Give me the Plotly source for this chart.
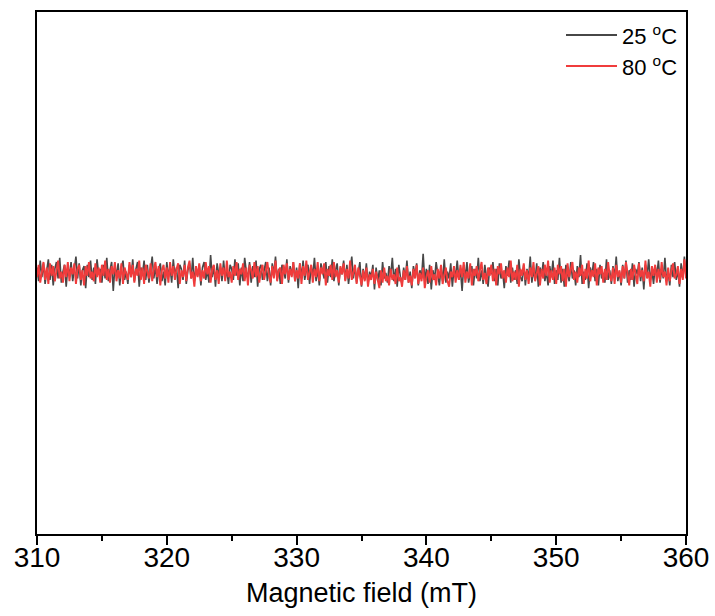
import numpy as np
import plotly.graph_objects as go

# Magnetic field axis (mT), 401 samples from 310 to 360
field_mT = np.linspace(310, 360, 401)

# EPR signal (arb. units), 25 °C
signal_25C = [
    4, -6, 9, -3, 7, -8, 2, 10, -5, 6, -9, 3, 8, -4, 11, -7, 1, 6, -10, 5,
    -2, 8, -6, 3, 12, -4, 7, -9, 2, 5, -11, 6, -3, 9, -5, 4, -8, 10, -1, 3,
    -7, 6, -4, 11, -6, 2, 8, -13, 5, -2, 7, -9, 4, 9, -5, 1, -8, 6, -3, 10,
    -6, 3, 8, -10, 4, -1, 9, -5, 6, -7, 2, 12, -4, 5, -8, 3, 7, -6, 1, -9,
    8, -3, 5, -7, 10, -2, 4, -11, 6, 3, -5, 9, -8, 2, 7, -4, 11, -6, 3, -2,
    6, -9, 4, 8, -5, 2, -7, 13, -3, 5, -10, 7, -1, 4, -6, 9, -4, 2, -8, 6,
    3, -5, 10, -2, 7, -9, 4, -6, 11, 1, -4, 8, -7, 5, -3, 9, -10, 3, 6, -5,
    2, 8, -6, 4, -9, 7, -1, 12, -5, 3, -8, 6, 1, -4, 10, -7, 5, -2, 8, -6,
    4, -11, 7, -3, 9, -5, 2, 6, -8, 5, -2, 11, -6, 3, -9, 7, 1, -4, 8, -7,
    5, -3, 10, -6, 2, 7, -9, 4, -1, 9, -5, 6, -8, 3, 12, -4, 5, -7, 2, 8,
    -10, 3, -5, 7, -8, 1, -3, 6, -12, 4, -6, 2, -9, 8, -4, 0, -7, 5, -2, 11,
    -6, 3, -10, 6, -3, -8, 4, -5, 9, -7, 1, -11, 5, -2, 7, -9, 2, -4, 14, -6,
    3, -8, 6, -12, 2, -5, 8, -3, -9, 4, -6, 10, -7, 1, -4, 7, -10, 3, -2, 9,
    -5, 2, -13, 6, -3, 8, -7, 0, 5, -9, 3, -4, 11, -6, 2, -8, 6, -3, -10, 4,
    -1, 8, -6, 3, -9, 7, -4, 1, -11, 5, -2, 9, -7, 4, -5, 2, -8, 10, -3, -6,
    6, -9, 3, -4, 12, -7, 2, -5, 7, -10, 4, -2, 8, -6, 1, -9, 5, -3, 9, -8,
    2, -5, 11, -7, 3, -10, 6, -1, -6, 8, -4, 2, -9, 5, -3, 13, -8, 1, -5, 7,
    -11, 4, -2, 8, -6, 3, -9, 6, -4, 0, -7, 10, -5, 2, -8, 5, -3, 12, -6, 1,
    -9, 6, -4, 9, -7, 2, -5, 7, -10, 3, -1, 8, -6, 4, -12, 6, -3, 10, -5, 2,
    -8, 5, -2, 9, -7, 3, -4, 11, -6, 1, -9, 6, -3, 8, -5, 2, -10, 7, -4, 12,
    -3,
]

# EPR signal (arb. units), 80 °C
signal_80C = [
    -3, 6, -7, 2, 8, -5, 4, -8, 7, -2, 5, -6, 3, 9, -4, 1, -7, 6, -3, 8,
    -6, 4, -1, 7, -8, 3, 6, -5, 2, -9, 5, -2, 8, -4, 1, -6, 7, -3, 4, -7,
    6, -2, 9, -5, 3, -7, 5, -1, 8, -6, 2, -4, 7, -8, 4, 0, -5, 8, -3, 6,
    -7, 3, -2, 9, -5, 4, -8, 6, 1, -4, 7, -6, 3, 8, -3, 5, -9, 2, 6, -4,
    4, -7, 8, -2, 5, -5, 3, 7, -8, 2, -3, 6, -6, 4, 9, -4, 1, -10, 5, -3,
    7, -6, 2, -4, 8, -1, 5, -7, 3, 6, -5, 2, -8, 7, -2, 4, -6, 9, -3, 1,
    -7, 5, -2, 8, -5, 3, -1, 7, -6, 4, -9, 6, 2, -4, 8, -3, 5, -7, 1, 6,
    -5, 3, 8, -2, -7, 5, -4, 9, -6, 2, 4, -8, 6, -1, 7, -5, 3, -3, 8, -6,
    2, -4, 7, -8, 5, -2, 9, -5, 1, 6, -7, 3, -3, 8, -6, 4, -1, 7, -9, 3,
    -2, 6, -5, 8, -3, 2, -7, 5, -1, 7, -6, 3, -4, 9, -5, 1, 6, -8, 4, -2,
    -9, 2, -6, 4, -10, -1, -5, 3, -8, 1, -4, -11, 2, -7, 4, -6, -2, -9, 3, -5,
    -1, -8, 4, -6, -3, -10, 2, -5, 5, -7, -2, -9, 3, -4, 6, -8, 0, -6, 4, -11,
    -3, 2, -7, 5, -5, -1, -9, 3, -4, 6, -8, -2, 4, -6, -10, 1, -3, 5, -7, 2,
    -5, 6, -3, 8, -7, 1, -4, 7, -9, 3, -2, 5, -6, 2, 8, -5, 0, -8, 4, -2,
    6, -6, 3, -9, 5, -1, 7, -4, 2, -7, 4, -3, 9, -6, 1, -5, 6, -10, 3, -2,
    7, -5, 2, -8, 4, -3, 8, -6, 1, 5, -9, 3, -4, 6, -2, 9, -7, 2, -5, 4,
    -8, 6, -1, 5, -6, 3, -10, 7, -3, 2, 8, -5, 1, -7, 4, -2, 6, -8, 3, -4,
    9, -6, 2, -3, 7, -9, 4, -1, 5, -7, 3, -5, 8, -2, -6, 4, -8, 6, -3, 2,
    -7, 5, -4, 8, -2, -9, 3, -5, 6, -1, -8, 7, -3, 2, -6, 9, -4, 1, -10, 5,
    -2, 6, -7, 3, -5, 8, -3, 1, -9, 4, -6, 2, 7, -4, -1, 5, -8, 3, -5, 10,
    -4,
]

series_names = ["25 <sup>o</sup>C", "80 <sup>o</sup>C"]
series_colors = ["#474747", "#F03C3C"]
series_widths = [1.6, 1.9]
x_tick_values = [310, 320, 330, 340, 350, 360]

fig = go.Figure()
for yvals, name, color, w in zip([signal_25C, signal_80C], series_names,
                                 series_colors, series_widths):
    fig.add_trace(go.Scatter(x=field_mT, y=yvals, mode="lines", name=name,
                             showlegend=False,
                             line=dict(color=color, width=w)))

font_family = "Liberation Sans, Arial, sans-serif"

# legend drawn as line samples + text in paper coordinates
legend_rows_px = [35, 66]
plot_l, plot_r, plot_t, plot_b = 37, 686, 12, 534
def px_x(px):
    return (px - plot_l) / (plot_r - plot_l)
def px_y(py):
    return (plot_b - py) / (plot_b - plot_t)

for row_y, name, color in zip(legend_rows_px, series_names, series_colors):
    fig.add_shape(type="line", xref="paper", yref="paper",
                  x0=px_x(566), x1=px_x(617), y0=px_y(row_y), y1=px_y(row_y),
                  line=dict(color=color, width=2))
    fig.add_annotation(xref="paper", yref="paper", x=px_x(620), y=px_y(row_y),
                       xanchor="left", yanchor="middle", showarrow=False,
                       text=name, font=dict(size=22, family=font_family, color="black"))

fig.update_layout(
    width=715, height=616,
    margin=dict(l=plot_l, r=715 - plot_r, t=plot_t, b=616 - plot_b),
    plot_bgcolor="white", paper_bgcolor="white",
    font=dict(family=font_family, color="black", size=28),
    showlegend=False,
    xaxis=dict(range=[310, 360], tickvals=x_tick_values, automargin=False,
               ticks="outside", ticklen=9, tickwidth=2, tickcolor="black",
               showline=True, linewidth=2, linecolor="black", mirror=True,
               showgrid=False, zeroline=False, ticklabelstandoff=-12,
               tickfont=dict(size=28, family=font_family),
               minor=dict(ticks="outside", ticklen=5, tickwidth=2,
                          tickcolor="black", dtick=5, tick0=310,
                          showgrid=False),
               title=dict(text="Magnetic field (mT)", standoff=12,
                          font=dict(size=27, family=font_family))),
    yaxis=dict(range=[-190, 190], showticklabels=False, ticks="",
               automargin=False,
               showline=True, linewidth=2, linecolor="black", mirror=True,
               showgrid=False, zeroline=False),
)

fig.write_html("out.html")
